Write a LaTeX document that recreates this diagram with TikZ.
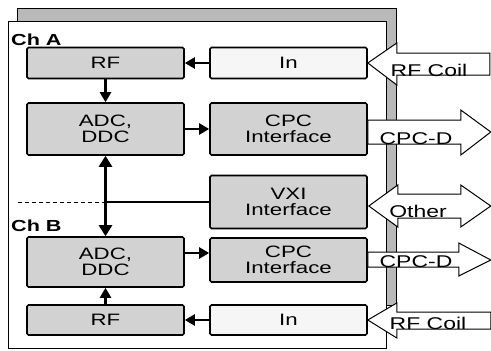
\documentclass[tikz,border=0pt]{standalone}
\usepackage{fontspec}
\setmainfont{Liberation Sans}[FakeStretch=1.35]
\usetikzlibrary{arrows.meta,calc}
\tikzset{
  block/.style={draw,line width=1.6pt,rounded corners=1.5pt,fill=gray!35,
    minimum width=157pt,align=center,inner sep=1pt,
    font=\fontsize{16.5}{16}\selectfont},
  inblock/.style={block,fill=gray!7},
  wire/.style={line width=2.4pt,-{Triangle[length=10pt,width=11pt]}},
  bigarrow/.style={draw,line width=1pt,fill=white,line join=miter},
  biglabel/.style={anchor=base,inner sep=0pt,font=\fontsize{17}{15}\selectfont},
  chlabel/.style={anchor=base west,inner sep=0pt,font=\fontsize{16}{16}\bfseries},
}
\begin{document}
\begin{tikzpicture}[x=1pt,y=-1pt]
\useasboundingbox (0,0) rectangle (491,351);

% board with its shadow
\draw[line width=1pt,fill=gray!55] (17,8) rectangle (396,305);
\draw[line width=1pt,fill=white] (8,21) rectangle (386,348);

% channel A
\node[block,minimum height=31pt] (rfA) at (105.5,63) {RF};
\node[inblock,minimum height=31pt] (inA) at (288.5,63) {In};
\node[block,minimum height=52pt] (adcA) at (105.5,129) {ADC,\\DDC};
\node[block,minimum height=52pt] (cpcA) at (288.5,129) {CPC\\Interface};
\node[chlabel] (chA) at (11,45) {Ch A};

% VXI
\node[block,minimum height=53pt] (vxi) at (288.5,202) {VXI\\Interface};

% channel B
\node[block,minimum height=50pt] (adcB) at (105.5,262) {ADC,\\DDC};
\node[block,minimum height=44pt] (cpcB) at (288.5,260) {CPC\\Interface};
\node[block,minimum height=30pt] (rfB) at (105.5,320) {RF};
\node[inblock,minimum height=30pt] (inB) at (288.5,320) {In};
\node[chlabel] (chB) at (11,231) {Ch B};

% signal paths
\draw[wire] (inA.west) -- (rfA.east);
\draw[wire] (rfA.south) -- (adcA.north);
\draw[wire] (adcA.east) -- (cpcA.west);
\draw[wire,line width=3pt,{Triangle[length=11pt,width=13pt]}-{Triangle[length=11pt,width=13pt]}] (adcA.south) -- (adcB.north);
\draw[wire] ([yshift=9pt]adcB.east) -- ([yshift=9pt]adcB.east -| cpcB.west);
\draw[wire] (rfB.north) -- (adcB.south);
\draw[wire] (inB.west) -- (rfB.east);

% VXI tap and channel divider
\coordinate (tap) at (adcA.south |- vxi.west);
\draw[line width=2.4pt] (tap) -- (vxi.west);
\draw[line width=0.8pt,dash pattern=on 4pt off 3pt] (tap) -- ++(-88,0);

% external connections
\draw[bigarrow] (inA.east) -- ++(29,-20) -- ++(0,10) -- ++(93,0) -- ++(0,22)
  -- ++(-93,0) -- ++(0,10) -- cycle;
\draw[bigarrow] (cpcA.east) ++(0,-9) -- ++(93,0) -- ++(0,-10) -- ++(30,22)
  -- ++(-30,23) -- ++(0,-11) -- ++(-93,0) -- cycle;
\draw[bigarrow] (vxi.east) ++(1,4) -- ++(29,-21) -- ++(0,9) -- ++(63,0) -- ++(0,-9)
  -- ++(30,21) -- ++(-30,21) -- ++(0,-9) -- ++(-63,0) -- ++(0,9) -- cycle;
\draw[bigarrow] (cpcB.east) ++(0,-8) -- ++(91,0) -- ++(0,-9) -- ++(32,17)
  -- ++(-32,16) -- ++(0,-9) -- ++(-91,0) -- cycle;
\draw[bigarrow] (inB.east) -- ++(29,-17) -- ++(0,9) -- ++(94,0) -- ++(0,17)
  -- ++(-94,0) -- ++(0,9) -- cycle;

\node[biglabel] (coilA) at (429,76) {RF Coil};
\node[biglabel] (cpcdA) at (416,144) {CPC-D};
\node[biglabel] (other) at (418,217) {Other};
\node[biglabel] (cpcdB) at (416,267) {CPC-D};
\node[biglabel] (coilB) at (428,329) {RF Coil};

\end{tikzpicture}
\end{document}
